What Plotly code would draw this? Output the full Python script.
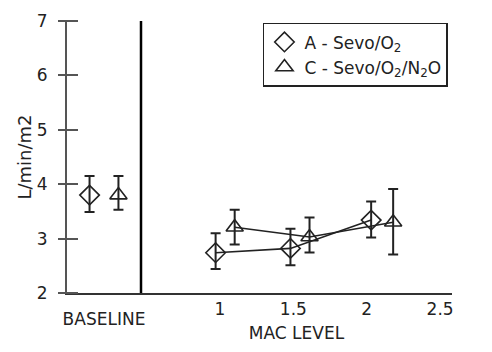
import plotly.graph_objects as go

# Baseline values
base_x = [0, 1]
base_y = [3.80, 3.80]
base_hi = [4.15, 4.15]
base_lo = [3.49, 3.53]

# MAC level series
mac_a_x = [0.97, 1.48, 2.03]
mac_a_y = [2.74, 2.82, 3.34]
mac_a_hi = [3.10, 3.18, 3.68]
mac_a_lo = [2.44, 2.51, 3.02]

mac_c_x = [1.10, 1.61, 2.18]
mac_c_y = [3.21, 3.03, 3.30]
mac_c_hi = [3.53, 3.39, 3.91]
mac_c_lo = [2.89, 2.745, 2.71]

x_ticks = [1, 1.5, 2, 2.5]
y_ticks = [2, 3, 4, 5, 6, 7]

FONT = "DejaVu Sans"
INK = "#222222"

def err(hi, lo, y):
    return dict(type="data", symmetric=False,
                array=[h - v for h, v in zip(hi, y)],
                arrayminus=[v - l for l, v in zip(lo, y)],
                color=INK, thickness=2, width=5)

fig = go.Figure()
names = ["A - Sevo/O<sub>2</sub>", "C - Sevo/O<sub>2</sub>/N<sub>2</sub>O"]
symbols = ["diamond-open", "triangle-up-open"]
for i in range(2):
    fig.add_trace(go.Scatter(
        x=[base_x[i]], y=[base_y[i]], mode="markers", name=names[i],
        marker=dict(symbol=symbols[i], size=15, color=INK, line=dict(width=1.6, color=INK)),
        error_y=err([base_hi[i]], [base_lo[i]], [base_y[i]]),
        xaxis="x", yaxis="y", showlegend=True))

for xs, ys, hi, lo, sym in [(mac_a_x, mac_a_y, mac_a_hi, mac_a_lo, symbols[0]),
                            (mac_c_x, mac_c_y, mac_c_hi, mac_c_lo, symbols[1])]:
    fig.add_trace(go.Scatter(
        x=xs, y=ys, mode="lines+markers", showlegend=False,
        line=dict(color=INK, width=1.6),
        marker=dict(symbol=sym, size=15, color=INK, line=dict(width=1.6, color=INK)),
        error_y=err(hi, lo, ys), xaxis="x2", yaxis="y"))

# invisible helper so the free axis carrying the full-length ticks is drawn
fig.add_trace(go.Scatter(x=[0, 0], y=[2, 2], mode="markers", marker=dict(opacity=0),
                         xaxis="x", yaxis="y2", showlegend=False, hoverinfo="skip"))

split = (141 - 67) / 385.0
tick_shift = 11 / 385.0

fig.update_layout(
    width=492, height=352,
    margin=dict(l=67, r=40, t=11, b=59),
    paper_bgcolor="white", plot_bgcolor="white",
    font=dict(family=FONT, size=17, color=INK),
    xaxis=dict(domain=[0, split], range=[-0.78, 1.78], showticklabels=False,
               ticks="", showgrid=False, zeroline=False, showline=True,
               linecolor="#333333", linewidth=1.5,
               title=dict(text="BASELINE", standoff=19, font=dict(size=17))),
    xaxis2=dict(domain=[split, 1], range=[0.4615, 2.581], tickvals=x_ticks,
                ticktext=[str(v) for v in x_ticks], ticks="", showgrid=False,
                zeroline=False, showline=True, linecolor="#333333", linewidth=1.5,
                anchor="y", title=dict(text="MAC LEVEL", standoff=9, font=dict(size=17)),
                ticklabelstandoff=0, tickfont=dict(size=17)),
    yaxis=dict(range=[2, 7], tickvals=y_ticks, ticks="", showgrid=False, zeroline=False,
               showline=True, linecolor="#555555", linewidth=2,
               ticklabelstandoff=14, tickfont=dict(size=17),
               title=dict(text="L/min/m2", standoff=0, font=dict(size=18))),
    yaxis2=dict(range=[2, 7], tickvals=y_ticks, ticks="outside", ticklen=20,
                tickwidth=1.5, tickcolor="#555555", showticklabels=False,
                showgrid=False, zeroline=False, showline=False,
                overlaying="y", anchor="free", position=tick_shift, side="left"),
    legend=dict(x=0.509, y=0.993, xanchor="left", yanchor="top",
                bordercolor="#222222", borderwidth=1.5, bgcolor="white",
                font=dict(size=17), itemwidth=30, tracegroupgap=0),
    shapes=[dict(type="line", xref="paper", yref="paper", x0=split, x1=split,
                 y0=0, y1=1, line=dict(color="black", width=2.5))],
)

fig.write_html("out.html")
